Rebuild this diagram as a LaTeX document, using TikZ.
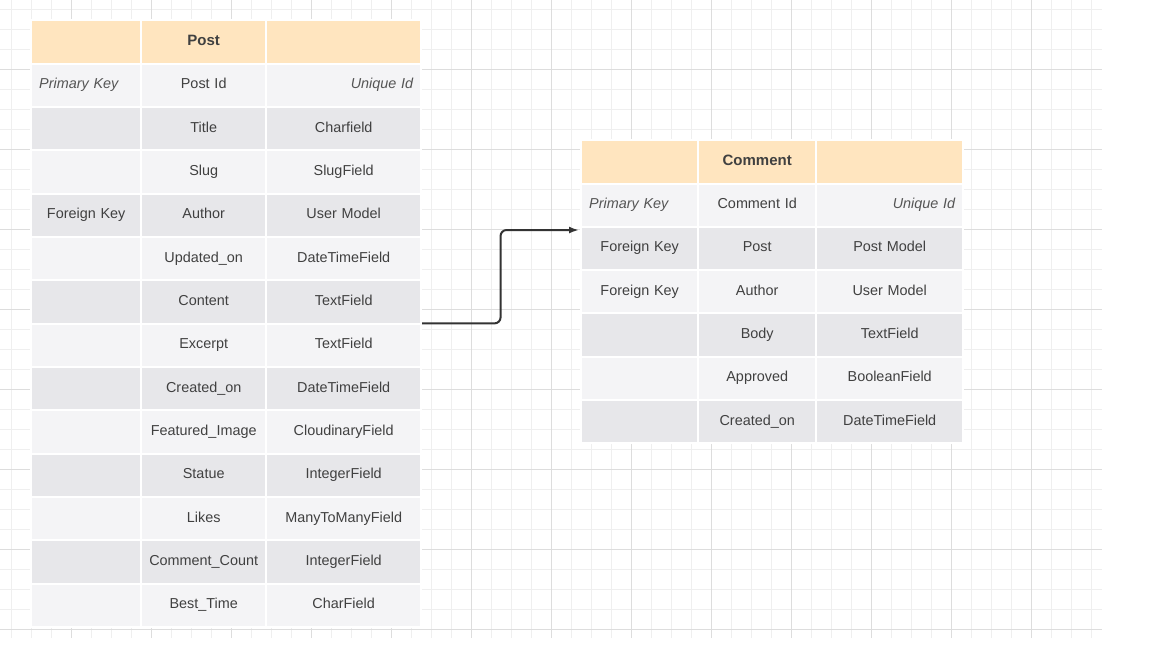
\documentclass[tikz,border=0pt]{standalone}
\usepackage{fontspec}
\setmainfont{Liberation Sans}
\usetikzlibrary{arrows.meta,calc}
\definecolor{headfill}{HTML}{FFE5BF}
\definecolor{rowlight}{HTML}{F4F4F6}
\definecolor{rowdark}{HTML}{E7E7EA}
\definecolor{celltext}{HTML}{404040}
\definecolor{keytext}{HTML}{555555}
\definecolor{linkcolor}{HTML}{333333}
\definecolor{gridminor}{HTML}{EFEFEF}
\definecolor{gridmajor}{HTML}{DDDDDD}

\begin{document}
\begin{tikzpicture}[x=1pt, y=-1pt, font=\fontsize{14.4}{16}\selectfont]
    \tikzset{cell/.style = {anchor=north west, minimum height=41.3pt, inner xsep=7pt, inner ysep=0pt, text height=10pt, text depth=3pt, text=celltext, align=center}}
    \tikzset{row0/.style = {cell, fill=rowdark}}
    \tikzset{row1/.style = {cell, fill=rowlight}}
    \tikzset{head/.style = {cell, fill=headfill, font=\fontsize{15}{16}\selectfont\bfseries}}
    \tikzset{keyname/.style = {font=\fontsize{14.4}{16}\selectfont\itshape, text=keytext}}
    \tikzset{pa/.style = {text width=94pt}, pb/.style = {text width=109pt}, pc/.style = {text width=139pt}}
    \tikzset{ca/.style = {text width=101pt}, cb/.style = {text width=102pt}, cc/.style = {text width=131pt}}
    \tikzset{link/.style = {draw=linkcolor, line width=2pt, rounded corners=6pt, -{Latex[length=10pt, width=7pt]}}}

    \useasboundingbox (0,0) rectangle (1153,649);
    \fill[white] (0,0) rectangle (1153,649);

    % background grid
    \foreach \k in {0,...,54} \draw[gridminor, line width=1pt] ({11.7+20*\k},0) -- ++(0,638);
    \foreach \k in {0,...,31} \draw[gridminor, line width=1pt] (0,{9.5+20*\k}) -- ++(1102,0);
    \foreach \k in {0,...,12} \draw[gridmajor, line width=1pt] ({71.7+80*\k},0) -- ++(0,638);
    \foreach \k in {0,...,7} \draw[gridmajor, line width=1pt] (0,{69.5+80*\k}) -- ++(1102,0);

    % Post table
    \fill[white] (30,19) rectangle (422,628);
    \node[head, pa] (post-0-key)  at (32,21)  {};
    \node[head, pb] (post-0-name) at (142,21) {Post};
    \node[head, pc] (post-0-type) at (267,21) {};
    \node[row1, pa, keyname, align=left]  (post-1-key)  at (32,64.35)  {Primary Key};
    \node[row1, pb]                       (post-1-name) at (142,64.35) {Post Id};
    \node[row1, pc, keyname, align=right] (post-1-type) at (267,64.35) {Unique Id};
    \foreach \key/\name/\type [count=\i from 2, evaluate=\i as \y using 21+43.35*\i] in {
        {}/Title/Charfield,
        {}/Slug/SlugField,
        Foreign Key/Author/User Model,
        {}/Updated\_on/DateTimeField,
        {}/Content/TextField,
        {}/Excerpt/TextField,
        {}/Created\_on/DateTimeField,
        {}/Featured\_Image/CloudinaryField,
        {}/Statue/IntegerField,
        {}/Likes/ManyToManyField,
        {}/Comment\_Count/IntegerField,
        {}/Best\_Time/CharField} {
        \pgfmathtruncatemacro\odd{mod(\i,2)}
        \node[row\odd, pa] (post-\i-key)  at (32,\y)  {\key};
        \node[row\odd, pb] (post-\i-name) at (142,\y) {\name};
        \node[row\odd, pc] (post-\i-type) at (267,\y) {\type};
    }

    % Comment table
    \fill[white] (580,139) rectangle (964,444);
    \node[head, ca] (comment-0-key)  at (582,141) {};
    \node[head, cb] (comment-0-name) at (699,141) {Comment};
    \node[head, cc] (comment-0-type) at (817,141) {};
    \node[row1, ca, keyname, align=left]  (comment-1-key)  at (582,184.3) {Primary Key};
    \node[row1, cb]                       (comment-1-name) at (699,184.3) {Comment Id};
    \node[row1, cc, keyname, align=right] (comment-1-type) at (817,184.3) {Unique Id};
    \foreach \key/\name/\type [count=\i from 2, evaluate=\i as \y using 141+43.3*\i] in {
        Foreign Key/Post/Post Model,
        Foreign Key/Author/User Model,
        {}/Body/TextField,
        {}/Approved/BooleanField,
        {}/Created\_on/DateTimeField} {
        \pgfmathtruncatemacro\odd{mod(\i,2)}
        \node[row\odd, ca] (comment-\i-key)  at (582,\y) {\key};
        \node[row\odd, cb] (comment-\i-name) at (699,\y) {\name};
        \node[row\odd, cc] (comment-\i-type) at (817,\y) {\type};
    }

    % relation
    \coordinate (from) at ([xshift=1.7pt, yshift=-0.6pt]post-6-type.south east);
    \coordinate (to) at ([xshift=-3pt, yshift=-2.4pt]comment-2-key.north west);
    \draw[link] (from) -| ($(from)!0.5!(to)$) |- (to);
\end{tikzpicture}
\end{document}
